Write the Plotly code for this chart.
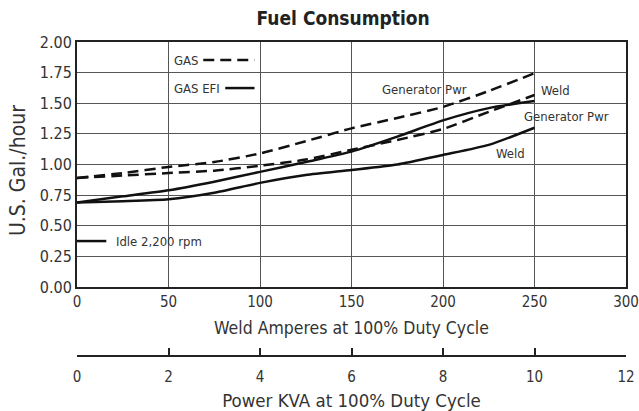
import plotly.graph_objects as go

# Weld amperes sample points
amps = [0, 25, 50, 75, 100, 125, 150, 175, 200, 225, 250]
gas_gen = [0.89, 0.93, 0.98, 1.02, 1.09, 1.19, 1.295, 1.38, 1.47, 1.60, 1.745]
gas_weld = [0.89, 0.91, 0.93, 0.95, 0.99, 1.04, 1.12, 1.20, 1.29, 1.43, 1.567]
efi_gen = [0.69, 0.74, 0.79, 0.86, 0.94, 1.02, 1.105, 1.227, 1.36, 1.46, 1.518]
efi_weld = [0.69, 0.70, 0.716, 0.77, 0.85, 0.914, 0.955, 1.00, 1.078, 1.16, 1.30]
idle_amps = [0, 16]
idle_val = [0.375, 0.375]

x1_ticks = [0, 50, 100, 150, 200, 250, 300]
kva_ticks = [0, 2, 4, 6, 8, 10, 12]
y_ticks = [0, 0.25, 0.5, 0.75, 1.0, 1.25, 1.5, 1.75, 2.0]

FONT = "Liberation Sans Narrow, DejaVu Sans Condensed, Roboto, sans-serif"
INK = "#111111"
TXT = "#333333"
DASH = "11px,6px"

fig = go.Figure()
for ys, dash in [(gas_gen, DASH), (gas_weld, DASH), (efi_gen, "solid"), (efi_weld, "solid")]:
    fig.add_trace(go.Scatter(x=amps, y=ys, mode="lines", line=dict(color=INK, width=2.5, dash=dash, shape="spline", smoothing=0.6), showlegend=False, hoverinfo="skip"))
fig.add_trace(go.Scatter(x=idle_amps, y=idle_val, mode="lines", line=dict(color=INK, width=2.5), showlegend=False, hoverinfo="skip"))
# invisible trace to activate xaxis2
fig.add_trace(go.Scatter(x=[0, 12], y=[None, None], xaxis="x2", mode="lines", showlegend=False, hoverinfo="skip"))

# legend samples
fig.add_shape(type="line", x0=69, x1=97, y0=1.853, y1=1.853, line=dict(color=INK, width=2.5, dash=DASH))
fig.add_shape(type="line", x0=81, x1=97, y0=1.624, y1=1.624, line=dict(color=INK, width=2.5))

ann = [
    dict(x=68, y=1.853, text="GAS", xanchor="right"),
    dict(x=79, y=1.624, text="GAS EFI", xanchor="right"),
    dict(x=190, y=1.616, text="Generator Pwr", xanchor="center"),
    dict(x=252.5, y=1.608, text="Weld", xanchor="left"),
    dict(x=243, y=1.388, text="Generator Pwr", xanchor="left"),
    dict(x=246, y=1.086, text="Weld", xanchor="right"),
    dict(x=20, y=0.375, text="Idle 2,200 rpm", xanchor="left"),
]
for a in ann:
    fig.add_annotation(x=a["x"], y=a["y"], text=a["text"], xanchor=a["xanchor"], yanchor="middle",
                       showarrow=False, font=dict(family=FONT, size=13, color=TXT), bgcolor="rgba(0,0,0,0)")

H = 411
top = 42
bot_px = 287
paper_h = H - top - 4
ydom0 = (H - 4 - bot_px) / paper_h
x2pos = (H - 4 - 356) / paper_h

# y-axis title as rotated annotation (slightly below plot centre, as in the reference)
fig.add_annotation(text="U.S. Gal./hour", xref="paper", yref="paper", x=(18 - 77) / 549, y=(H - 4 - 171) / paper_h,
                   textangle=-90, showarrow=False, xanchor="center", yanchor="middle",
                   font=dict(family=FONT, size=21, color=TXT))

fig.update_layout(
    width=639, height=411,
    margin=dict(l=77, r=13, t=top, b=4, autoexpand=False),
    paper_bgcolor="white", plot_bgcolor="rgba(0,0,0,0)",
    font=dict(family=FONT, size=15, color=TXT),
    title=dict(text="<b>Fuel Consumption</b>", x=0.537, xanchor="center", y=0.955, yanchor="middle",
               font=dict(family=FONT, size=19, color="#222")),
    xaxis=dict(range=[0, 300], tickvals=x1_ticks, showgrid=True, gridcolor="#555", gridwidth=1,
               showline=True, linecolor="#222", linewidth=2, mirror=True, ticks="", zeroline=False,
               automargin=False, layer="above traces",
               title=dict(text="Weld Amperes at 100% Duty Cycle", standoff=12, font=dict(size=17.5, color=TXT))),
    yaxis=dict(range=[0, 2], domain=[ydom0, 1], tickvals=y_ticks, tickformat=".2f", showgrid=True,
               gridcolor="#555", gridwidth=1, showline=True, linecolor="#222", linewidth=2, mirror=True,
               zeroline=False, ticks="", ticklen=0, automargin=False,
               tickfont=dict(size=16)),
    xaxis2=dict(range=[0, 12], tickvals=kva_ticks, anchor="free", position=x2pos, overlaying="x", side="bottom",
                showline=True, linecolor="#222", linewidth=2, ticks="inside", ticklen=7, tickwidth=2,
                tickcolor="#222", showgrid=False, zeroline=False, automargin=False, ticklabelstandoff=7,
                title=dict(text="Power KVA at 100% Duty Cycle", standoff=10, font=dict(size=18.5, color=TXT))),
)
fig.write_html("out.html", config={"displayModeBar": False},
               post_script="document.body.style.margin='0';document.body.style.padding='0';")
